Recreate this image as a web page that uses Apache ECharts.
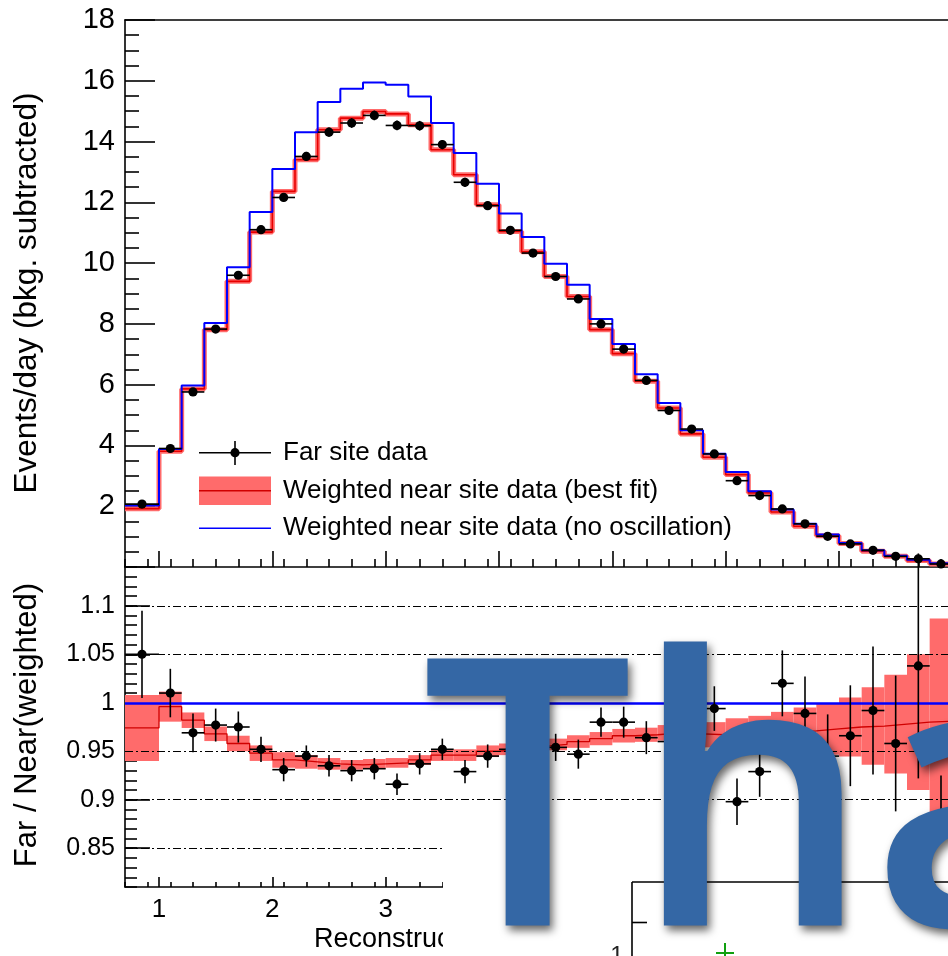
<!DOCTYPE html>
<html><head><meta charset="utf-8">
<script src="https://cdn.jsdelivr.net/npm/echarts@6/dist/echarts.min.js"></script>
<style>html,body{margin:0;padding:0;background:#fff;overflow:hidden}#c{width:948px;height:956px}</style>
</head><body><div id="c"></div>
<script>
// ---------- data ----------
const binEdges = [0.7, 1.0, 1.2, 1.4, 1.6, 1.8, 2.0, 2.2, 2.4, 2.6, 2.8, 3.0, 3.2, 3.4, 3.6, 3.8, 4.0, 4.2, 4.4, 4.6, 4.8, 5.0, 5.2, 5.4, 5.6, 5.8, 6.0, 6.2, 6.4, 6.6, 6.8, 7.0, 7.2, 7.4, 7.6, 7.8, 8.0];
const farData = [2.07, 3.90, 5.76, 7.83, 9.60, 11.10, 12.16, 13.51, 14.31, 14.61, 14.86, 14.53, 14.52, 13.90, 12.66, 11.89, 11.08, 10.33, 9.56, 8.82, 8.00, 7.17, 6.14, 5.15, 4.54, 3.72, 2.84, 2.35, 1.91, 1.42, 1.01, 0.76, 0.55, 0.35, 0.27, 0.10];
const farErr = [0.06, 0.08, 0.09, 0.11, 0.12, 0.13, 0.14, 0.15, 0.15, 0.16, 0.16, 0.16, 0.16, 0.15, 0.15, 0.14, 0.14, 0.13, 0.12, 0.12, 0.11, 0.11, 0.10, 0.09, 0.09, 0.08, 0.07, 0.07, 0.06, 0.05, 0.05, 0.04, 0.04, 0.03, 0.03, 0.03];
const nearBestFit = [1.92, 3.81, 5.86, 7.81, 9.40, 11.02, 12.36, 13.40, 14.39, 14.77, 14.99, 14.91, 14.55, 13.73, 12.91, 11.92, 11.04, 10.37, 9.56, 8.90, 7.81, 7.02, 6.11, 5.23, 4.38, 3.61, 3.04, 2.44, 1.81, 1.34, 1.03, 0.77, 0.52, 0.35, 0.21, 0.10];
const nearNoOsc = [2.02, 3.88, 5.97, 8.03, 9.86, 11.68, 13.10, 14.31, 15.30, 15.74, 15.94, 15.87, 15.48, 14.61, 13.62, 12.61, 11.63, 10.86, 9.98, 9.29, 8.16, 7.34, 6.34, 5.40, 4.50, 3.73, 3.13, 2.49, 1.89, 1.42, 1.07, 0.79, 0.55, 0.37, 0.24, 0.12];
const ratioData = [1.050, 1.010, 0.969, 0.977, 0.975, 0.952, 0.931, 0.945, 0.935, 0.930, 0.932, 0.916, 0.937, 0.952, 0.929, 0.945, 0.952, 0.955, 0.954, 0.947, 0.980, 0.980, 0.964, 0.960, 0.962, 0.994, 0.898, 0.929, 1.020, 0.989, 0.945, 0.966, 0.992, 0.958, 1.038, 0.860];
const ratioErr = [0.045, 0.025, 0.020, 0.017, 0.016, 0.013, 0.012, 0.011, 0.011, 0.011, 0.011, 0.011, 0.011, 0.011, 0.012, 0.012, 0.013, 0.013, 0.014, 0.015, 0.015, 0.016, 0.017, 0.019, 0.021, 0.023, 0.024, 0.026, 0.034, 0.038, 0.043, 0.052, 0.066, 0.070, 0.116, 0.065];
const ratioFit = [0.974, 0.996, 0.982, 0.968, 0.958, 0.948, 0.941, 0.939, 0.937, 0.936, 0.937, 0.938, 0.941, 0.946, 0.946, 0.950, 0.952, 0.955, 0.957, 0.960, 0.963, 0.966, 0.967, 0.969, 0.968, 0.967, 0.967, 0.968, 0.970, 0.971, 0.973, 0.975, 0.976, 0.978, 0.980, 0.981];
const ratioFitErr = [0.034, 0.0155, 0.008, 0.0075, 0.008, 0.008, 0.008, 0.007, 0.006, 0.005, 0.005, 0.005, 0.005, 0.006, 0.006, 0.006, 0.006, 0.006, 0.006, 0.0065, 0.0068, 0.007, 0.0073, 0.008, 0.010, 0.013, 0.017, 0.0185, 0.0206, 0.024, 0.0265, 0.0305, 0.040, 0.051, 0.070, 0.106];
const noOscRatio = 1;
const ratioGridValues = [0.85, 0.9, 0.95, 1.05, 1.1];
const xMajorTicks = [1, 2, 3, 4, 5, 6, 7, 8];
const ratioMajorTicks = [0.85, 0.9, 0.95, 1, 1.05, 1.1];
const legendLabels = ['Far site data', 'Weighted near site data (best fit)', 'Weighted near site data (no oscillation)'];
const yTitleTop = 'Events/day (bkg. subtracted)';
const yTitleBottom = 'Far / Near(weighted)';
const xTitle = 'Reconstructed positron energy (MeV)';
const overlayText = 'Thanks';
const insetLabel = '1';

// ---------- build ----------
const FONT = 'Liberation Sans';
function steps(vals) { const p = []; vals.forEach((v, i) => { p.push([binEdges[i], v], [binEdges[i + 1], v]); }); return p; }
const centers = farData.map((_, i) => (binEdges[i] + binEdges[i + 1]) / 2);
const farPts = farData.map((v, i) => [centers[i], v, binEdges[i], binEdges[i + 1], farErr[i]]);
const ratioPts = ratioData.map((v, i) => [centers[i], v, binEdges[i], binEdges[i + 1], ratioErr[i]]);
const bandRects = ratioFit.map((c, i) => [binEdges[i], binEdges[i + 1], c, ratioFitErr[i]]);

function errRender(params, api) {
  const x = api.value(0), y = api.value(1), lo = api.value(2), hi = api.value(3), e = api.value(4);
  const pc = api.coord([x, y]), pl = api.coord([lo, y]), ph = api.coord([hi, y]);
  const pt = api.coord([x, y + e]), pb = api.coord([x, y - e]);
  return { type: 'group', children: [
    { type: 'line', shape: { x1: pl[0], y1: pc[1], x2: ph[0], y2: pc[1] }, style: { stroke: '#000', lineWidth: 1.6 } },
    { type: 'line', shape: { x1: pc[0], y1: pt[1], x2: pc[0], y2: pb[1] }, style: { stroke: '#000', lineWidth: 1.6 } },
    { type: 'circle', shape: { cx: pc[0], cy: pc[1], r: 4.6 }, style: { fill: '#000' } }
  ] };
}
function bandRender(params, api) {
  const lo = api.value(0), hi = api.value(1), c = api.value(2), h = api.value(3);
  const p1 = api.coord([lo, c + h]), p2 = api.coord([hi, c - h]);
  return { type: 'rect', shape: { x: p1[0], y: p1[1], width: p2[0] - p1[0], height: p2[1] - p1[1] }, style: { fill: '#ff6b6b' } };
}

const XMIN = 0.7, XMAX = 8.05;
const blackLine = { color: '#000', width: 1.6 };
function xAx(grid, extra) {
  return Object.assign({ type: 'value', gridIndex: grid, min: XMIN, max: XMAX, position: 'bottom',
    axisLine: { show: false }, axisTick: { show: false }, axisLabel: { show: false }, splitLine: { show: false } }, extra);
}
function yAx(grid, extra) {
  return Object.assign({ type: 'value', gridIndex: grid, position: 'left',
    axisLine: { show: false }, axisTick: { show: false }, axisLabel: { show: false }, splitLine: { show: false } }, extra);
}

const option = {
  animation: false,
  backgroundColor: '#fff',
  grid: [
    { left: 125, top: 20, right: -10, height: 547, outerBoundsMode: 'none', containLabel: false },
    { left: 125, top: 567, right: -10, height: 320, outerBoundsMode: 'none', containLabel: false }
  ],
  xAxis: [
    xAx(0, { axisLine: { show: true, lineStyle: blackLine }, splitNumber: 8,
      axisTick: { show: true, inside: true, length: 16, customValues: xMajorTicks, lineStyle: blackLine } }),
    xAx(0, { interval: 0.2, axisTick: { show: true, inside: true, length: 8, lineStyle: blackLine } }),
    xAx(0, { position: 'top', axisLine: { show: true, lineStyle: blackLine } }),
    xAx(1, { axisLine: { show: true, lineStyle: blackLine }, splitNumber: 8,
      axisTick: { show: true, inside: true, length: 10, customValues: xMajorTicks, lineStyle: blackLine },
      axisLabel: { show: true, customValues: xMajorTicks, fontFamily: FONT, fontSize: 26, color: '#000', margin: 10 } }),
    xAx(1, { interval: 0.2, axisTick: { show: true, inside: true, length: 5, lineStyle: blackLine } })
  ],
  yAxis: [
    yAx(0, { min: 0, max: 18, interval: 2,
      axisLine: { show: true, lineStyle: blackLine },
      axisTick: { show: true, inside: true, length: 30, lineStyle: blackLine },
      minorTick: { show: true, splitNumber: 4, length: 14, lineStyle: blackLine },
      axisLabel: { show: true, showMinLabel: false, fontFamily: FONT, fontSize: 29, color: '#000', margin: 10 } }),
    yAx(1, { min: 0.81, max: 1.14,
      axisLine: { show: true, lineStyle: blackLine },
      axisTick: { show: true, inside: true, length: 25, customValues: ratioMajorTicks, lineStyle: blackLine },
      axisLabel: { show: true, customValues: ratioMajorTicks, fontFamily: FONT, fontSize: 25, color: '#000', margin: 10 } }),
    yAx(1, { min: 0.81, max: 1.14, interval: 0.01,
      axisTick: { show: true, inside: true, length: 12, lineStyle: blackLine } })
  ],
  series: [
    { type: 'custom', xAxisIndex: 3, yAxisIndex: 1, data: bandRects, renderItem: bandRender,
      encode: { x: [0, 1], y: [2] }, z: 2, silent: true },
    { type: 'line', xAxisIndex: 3, yAxisIndex: 1, data: steps(ratioFit), symbol: 'none',
      lineStyle: { color: '#d00000', width: 1.3 }, z: 3, silent: true,
      markLine: { silent: true, symbol: ['none', 'none'], label: { show: false },
        lineStyle: { color: '#000', width: 1.1, type: [8, 3, 2, 3] },
        data: ratioGridValues.map(v => ({ yAxis: v })) } },
    { type: 'line', xAxisIndex: 3, yAxisIndex: 1, data: [], symbol: 'none', z: 4, silent: true,
      markLine: { silent: true, symbol: ['none', 'none'], label: { show: false },
        lineStyle: { color: '#0000ff', width: 2.6, type: 'solid' }, data: [{ yAxis: noOscRatio }] } },
    { type: 'custom', xAxisIndex: 3, yAxisIndex: 1, data: ratioPts, renderItem: errRender, z: 6, silent: true },

    { type: 'line', xAxisIndex: 0, yAxisIndex: 0, data: steps(nearBestFit), symbol: 'none',
      lineStyle: { color: '#ff6b6b', width: 5 }, z: 2, silent: true },
    { type: 'line', xAxisIndex: 0, yAxisIndex: 0, data: steps(nearBestFit), symbol: 'none',
      lineStyle: { color: '#e80000', width: 1.6 }, z: 3, silent: true },
    { type: 'line', xAxisIndex: 0, yAxisIndex: 0, data: steps(nearNoOsc), symbol: 'none',
      lineStyle: { color: '#0000ff', width: 2 }, z: 4, silent: true },
    { type: 'custom', xAxisIndex: 0, yAxisIndex: 0, data: farPts, renderItem: errRender, z: 6, silent: true }
  ],
  graphic: [
    // legend
    { type: 'line', z: 10, shape: { x1: 199, y1: 452.7, x2: 271, y2: 452.7 }, style: { stroke: '#000', lineWidth: 1.6 } },
    { type: 'line', z: 10, shape: { x1: 235, y1: 441, x2: 235, y2: 465 }, style: { stroke: '#000', lineWidth: 1.6 } },
    { type: 'circle', z: 10, shape: { cx: 235, cy: 452.7, r: 4.6 }, style: { fill: '#000' } },
    { type: 'text', z: 10, x: 283, y: 452.7, style: { text: legendLabels[0], fontFamily: FONT, fontSize: 26, fill: '#000', verticalAlign: 'middle', align: 'left' } },
    { type: 'rect', z: 10, shape: { x: 199, y: 476.5, width: 72, height: 28.5 }, style: { fill: '#ff6b6b' } },
    { type: 'line', z: 10, shape: { x1: 199, y1: 490.7, x2: 271, y2: 490.7 }, style: { stroke: '#d00000', lineWidth: 1.5 } },
    { type: 'text', z: 10, x: 283, y: 490.7, style: { text: legendLabels[1], fontFamily: FONT, fontSize: 26, fill: '#000', verticalAlign: 'middle', align: 'left' } },
    { type: 'line', z: 10, shape: { x1: 199, y1: 528.3, x2: 271, y2: 528.3 }, style: { stroke: '#0000ff', lineWidth: 1.5 } },
    { type: 'text', z: 10, x: 283, y: 528.3, style: { text: legendLabels[2], fontFamily: FONT, fontSize: 26, fill: '#000', verticalAlign: 'middle', align: 'left' } },
    // axis titles
    { type: 'text', z: 10, x: 27, y: 293, rotation: Math.PI / 2, style: { text: yTitleTop, fontFamily: FONT, fontSize: 31.5, fill: '#000', align: 'center', verticalAlign: 'middle' } },
    { type: 'text', z: 10, x: 27, y: 725, rotation: Math.PI / 2, style: { text: yTitleBottom, fontFamily: FONT, fontSize: 31, fill: '#000', align: 'center', verticalAlign: 'middle' } },
    { type: 'text', z: 10, x: 314, y: 940, style: { text: xTitle, fontFamily: FONT, fontSize: 27, fill: '#000', align: 'left', verticalAlign: 'middle' } },
    // overlaid slide image (white panel with inset frame)
    { type: 'rect', z: 90, shape: { x: 443, y: 825, width: 520, height: 140 }, style: { fill: '#fff' } },
    { type: 'line', z: 91, shape: { x1: 632, y1: 882, x2: 960, y2: 882 }, style: { stroke: '#000', lineWidth: 1.6 } },
    { type: 'line', z: 91, shape: { x1: 632, y1: 882, x2: 632, y2: 960 }, style: { stroke: '#000', lineWidth: 1.6 } },
    { type: 'line', z: 91, shape: { x1: 632, y1: 922.5, x2: 647, y2: 922.5 }, style: { stroke: '#000', lineWidth: 1.6 } },
    { type: 'text', z: 91, x: 617, y: 944, style: { text: insetLabel, fontFamily: FONT, fontSize: 24, fill: '#222', align: 'center', verticalAlign: 'top' } },
    { type: 'line', z: 91, shape: { x1: 725, y1: 943, x2: 725, y2: 960 }, style: { stroke: '#10a010', lineWidth: 2 } },
    { type: 'line', z: 91, shape: { x1: 716, y1: 953, x2: 734, y2: 953 }, style: { stroke: '#10a010', lineWidth: 2 } },
    // big overlay title
    { type: 'text', z: 100, x: 422, y: 819, style: { text: overlayText, fontFamily: 'Open Sans', fontWeight: 600, fontSize: 374, fill: '#3467a5',
      align: 'left', verticalAlign: 'middle',
      textShadowColor: 'rgba(0,0,0,0.6)', textShadowBlur: 9, textShadowOffsetX: 3, textShadowOffsetY: 5,
      shadowColor: 'rgba(0,0,0,0.6)', shadowBlur: 9, shadowOffsetX: 3, shadowOffsetY: 5 } }
  ]
};
const chart = echarts.init(document.getElementById('c'), null, { renderer: 'canvas' });
chart.setOption(option);
</script>
</body></html>
